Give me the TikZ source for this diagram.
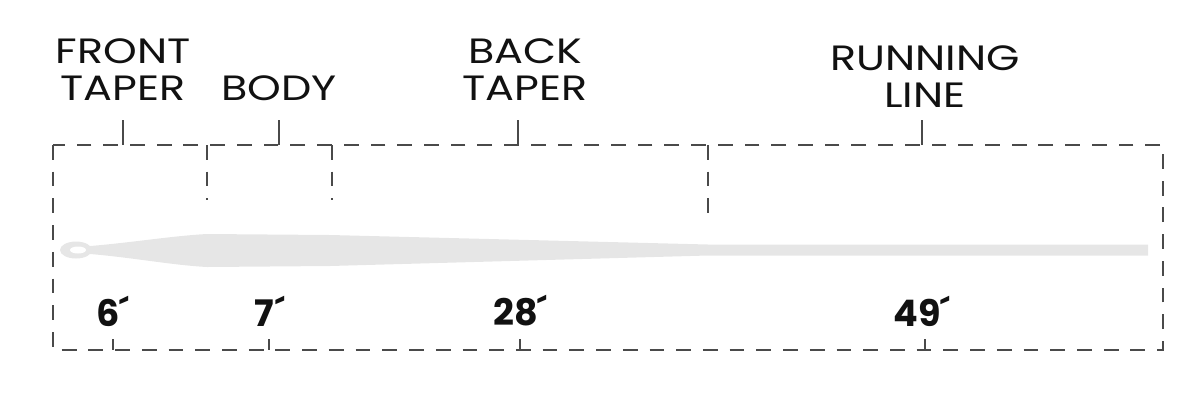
\documentclass[tikz,border=0pt]{standalone}
\usepackage{fontspec}
\setmainfont{Poppins}
\newfontfamily\partfont[FakeStretch=1.22]{Poppins}
\definecolor{dashgray}{HTML}{4A4A4A}
\definecolor{linegray}{HTML}{E6E6E6}
\definecolor{ink}{HTML}{111111}

\begin{document}
\begin{tikzpicture}[x=0.025cm, y=-0.025cm, every node/.style={inner sep=0pt, text=ink}]
\tikzset{
  guide/.style={draw=dashgray, line width=1.4pt, dash pattern=on 10.5pt off 8.5pt},
  tick/.style={draw=dashgray, line width=1.4pt},
  part/.style={align=center, font=\partfont\fontsize{25}{26.5}\selectfont},
  len/.style={font=\fontsize{26}{28}\selectfont\bfseries},
}
\useasboundingbox (0,0) rectangle (1200,410);

% section names
\node[part, anchor=north] (front) at (123,38) {FRONT\\TAPER};
\node[part, anchor=north] (body) at (279,75) {BODY};
\node[part, anchor=north] (back) at (525,38) {BACK\\TAPER};
\node[part, anchor=north] (run) at (925,45) {RUNNING\\LINE};

% lengths
\node[len] (l6) at (113,311) {6\kern-0.5pt´};
\node[len] (l7) at (270,311) {7\kern1pt´};
\node[len] (l28) at (520,311) {28\kern-0.5pt´};
\node[len] (l49) at (922,311) {49\kern-0.5pt´};

% the line itself
\fill[linegray] (84,246.5) .. controls (130,243) and (170,236) .. (207,234)
  -- (330,235) -- (708,244.5) -- (1148,244.5) -- (1148,255.5) -- (708,255.5)
  -- (330,266) -- (207,267) .. controls (170,265) and (130,257) .. (84,253.5) -- cycle;
\fill[linegray] (76,250) ellipse [x radius=16, y radius=8.5];
\fill[white] (78,250) ellipse [x radius=8, y radius=3.5];

% dashed frame
\coordinate (tl) at (53,145);
\coordinate (br) at (1163,350);
\draw[guide] (tl) rectangle (br);

% dividers
\coordinate (d1) at (207,145);
\coordinate (d1e) at (207,200);
\coordinate (d2) at (332,145);
\coordinate (d2e) at (332,200);
\coordinate (d3) at (708,145);
\coordinate (d3e) at (708,225);
\draw[guide] (d1) -- (d1e);
\draw[guide] (d2) -- (d2e);
\draw[guide] (d3) -- (d3e);

% ticks under the names
\coordinate (tf) at (123,120);
\coordinate (tfe) at (123,145);
\coordinate (tb) at (279,120);
\coordinate (tbe) at (279,145);
\coordinate (tk) at (518,120);
\coordinate (tke) at (518,145);
\coordinate (tr) at (922,120);
\coordinate (tre) at (922,145);
\draw[tick] (tf) -- (tfe);
\draw[tick] (tb) -- (tbe);
\draw[tick] (tk) -- (tke);
\draw[tick] (tr) -- (tre);

% ticks over the lengths
\coordinate (b6) at (113,339);
\coordinate (b6e) at (113,350);
\coordinate (b7) at (269,339);
\coordinate (b7e) at (269,350);
\coordinate (b28) at (520,339);
\coordinate (b28e) at (520,350);
\coordinate (b49) at (925,339);
\coordinate (b49e) at (925,350);
\draw[tick] (b6) -- (b6e);
\draw[tick] (b7) -- (b7e);
\draw[tick] (b28) -- (b28e);
\draw[tick] (b49) -- (b49e);

\end{tikzpicture}
\end{document}
